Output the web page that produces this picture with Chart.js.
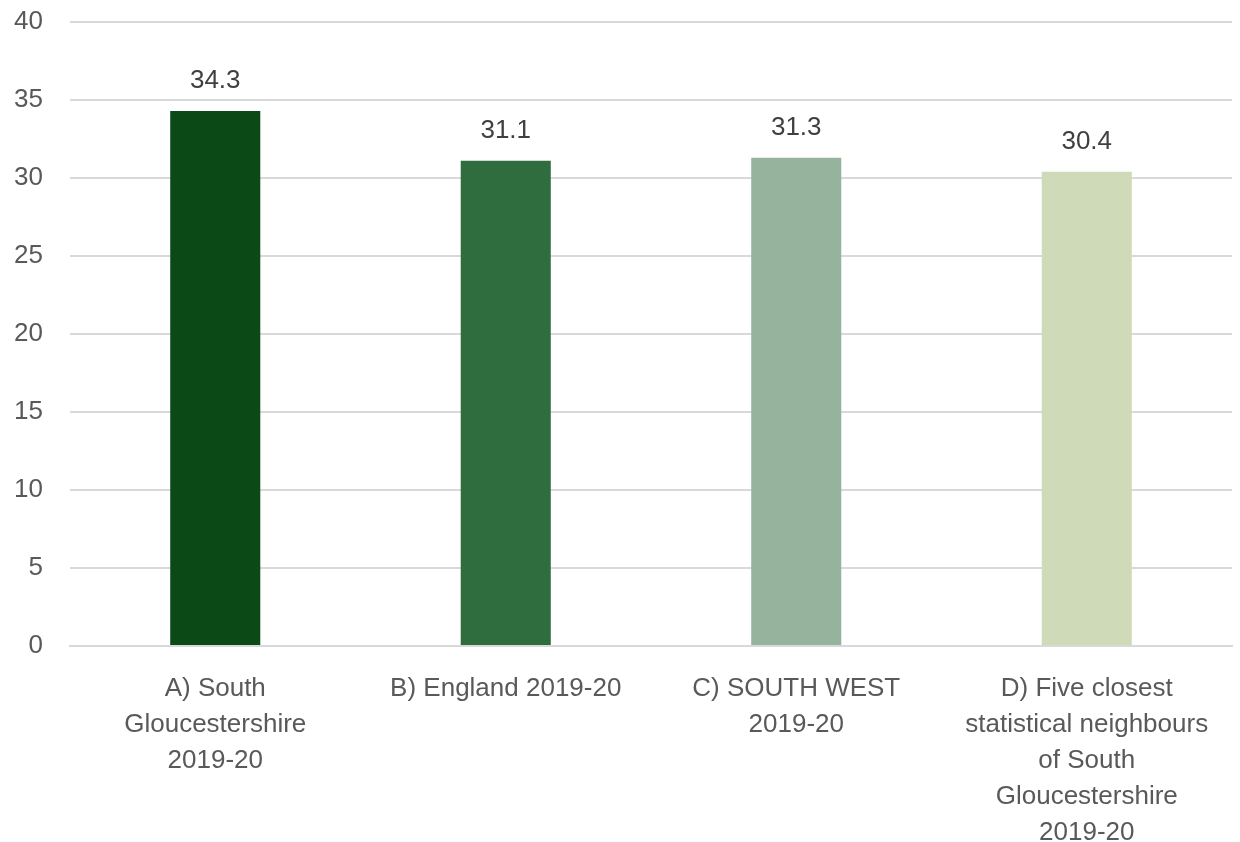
<!DOCTYPE html>
<html>
<head>
<meta charset="utf-8">
<script src="https://cdn.jsdelivr.net/npm/chart.js@4"></script>
<style>
  html, body { margin: 0; padding: 0; background: #ffffff; }
  #wrap { width: 1240px; height: 842px; }
</style>
</head>
<body>
<div id="wrap"><canvas id="chart" width="1240" height="842"></canvas></div>
<script>
// categories (split into lines as in the original)
const categories = [
    ["A) South", "Gloucestershire", "2019-20"],
    ["B) England 2019-20"],
    ["C) SOUTH WEST", "2019-20"],
    ["D) Five closest", "statistical neighbours", "of South", "Gloucestershire", "2019-20"]
];
const values = [34.3, 31.1, 31.3, 30.4];
const barColours = ["#0b4a16", "#2f6d3f", "#96b49d", "#cfdab8"];
const yMin = 0;
const yMax = 40;
const yStep = 5;

const fontFamily = '"Liberation Sans", Arial, sans-serif';

// draw value labels above each bar
const valueLabels = {
    id: 'valueLabels',
    afterDatasetsDraw(chart) {
        const ctx = chart.ctx;
        const meta = chart.getDatasetMeta(0);
        ctx.save();
        ctx.font = '26px ' + fontFamily;
        ctx.fillStyle = '#404040';
        ctx.textAlign = 'center';
        ctx.textBaseline = 'alphabetic';
        meta.data.forEach((bar, i) => {
            ctx.fillText(values[i].toFixed(1), bar.x, bar.y - 23);
        });
        ctx.restore();
    }
};

const ctx = document.getElementById("chart").getContext("2d");
new Chart(ctx, {
    type: 'bar',
    data: {
        labels: categories,
        datasets: [{
            data: values,
            backgroundColor: barColours,
            borderWidth: 0,
            categoryPercentage: 1,
            barPercentage: 0.31
        }]
    },
    options: {
        responsive: false,
        animation: false,
        layout: { padding: { top: 22, right: 8, left: 0, bottom: 0 } },
        plugins: {
            legend: { display: false },
            tooltip: { enabled: false }
        },
        scales: {
            x: {
                grid: { display: false, drawTicks: false },
                border: { color: '#d9d9d9', width: 2 },
                ticks: {
                    color: '#595959',
                    font: { family: fontFamily, size: 26, lineHeight: 1.385 },
                    padding: 25,
                    maxRotation: 0,
                    autoSkip: false
                },
                afterFit(scale) { scale.height = 196; }
            },
            y: {
                min: yMin,
                max: yMax,
                ticks: {
                    stepSize: yStep,
                    color: '#595959',
                    font: { family: fontFamily, size: 26 },
                    padding: 27
                },
                grid: { color: '#d9d9d9', lineWidth: 2, drawTicks: false },
                border: { display: false },
                afterFit(scale) {
                    scale.width = 70;
                    scale.paddingTop = 0;
                    scale.paddingBottom = 0;
                }
            }
        }
    },
    plugins: [valueLabels]
});
</script>
</body>
</html>
